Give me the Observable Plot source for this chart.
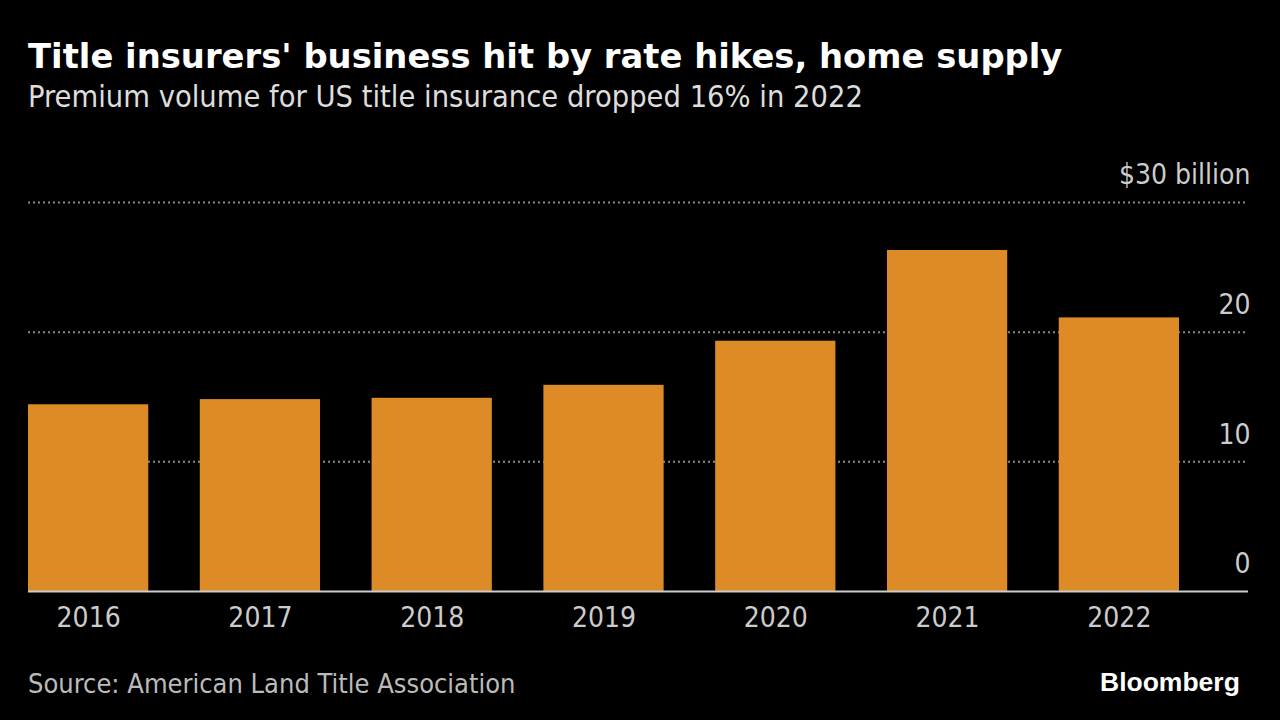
<!DOCTYPE html>
<html><head><meta charset="utf-8">
<script src="https://cdn.jsdelivr.net/npm/d3@7"></script>
<script src="https://cdn.jsdelivr.net/npm/@observablehq/plot@0.6"></script>
<style>
body{margin:0;background:#000;width:1280px;height:720px;overflow:hidden;position:relative}
.t{position:absolute;white-space:nowrap;line-height:1}
#title{left:28px;top:40px;font-family:"DejaVu Sans";font-weight:bold;font-size:33.8px;color:#fff}
#subtitle{left:28px;top:82px;font-family:"DejaVu Sans Condensed","DejaVu Sans";font-stretch:condensed;font-size:30.5px;color:#ddd}
#chart{position:absolute;left:0;top:140px}
#source{left:28px;top:670px;font-family:"DejaVu Sans Condensed","DejaVu Sans";font-stretch:condensed;font-size:27px;color:#bbb}
#logo{left:1100px;top:669px;font-family:"Liberation Sans";font-weight:bold;font-size:26.5px;color:#fff}
</style></head>
<body>
<div class="t" id="title">Title insurers' business hit by rate hikes, home supply</div>
<div class="t" id="subtitle">Premium volume for US title insurance dropped 16% in 2022</div>
<div id="chart"></div>
<div class="t" id="source">Source: American Land Title Association</div>
<div class="t" id="logo">Bloomberg</div>
<script>
const years = ["2016", "2017", "2018", "2019", "2020", "2021", "2022"];
const premiums = [14.4, 14.8, 14.9, 15.9, 19.3, 26.3, 21.1];
const yTicks = [0, 10, 20, 30];
const yTickLabels = ["0", "10", "20", "$30 billion"];
const gridValues = [10, 20, 30];

const data = years.map((year, i) => ({year, value: premiums[i]}));

const chart = Plot.plot({
  width: 1280,
  height: 510,
  marginTop: 62,
  marginBottom: 59,
  marginLeft: 28,
  marginRight: 32,
  style: {background: "transparent", color: "#ccc", fontFamily: "'DejaVu Sans Condensed','DejaVu Sans'", fontSize: "28px"},
  x: {domain: years, range: [28, 1179], paddingInner: 0.3, paddingOuter: 0, round: false, label: null},
  y: {domain: [0, 30], label: null},
  marks: [
    Plot.ruleY(gridValues, {stroke: "#8a8a8a", strokeWidth: 2, strokeDasharray: "2,3"}),
    Plot.barY(data, {x: "year", y: "value", fill: "#dc8b27"}),
    Plot.ruleY([0], {stroke: "#ccc", strokeWidth: 2}),
    Plot.axisX({tickSize: 0, tickPadding: 16, fontSize: 28, fill: "#ccc"}),
    Plot.axisY(yTicks, {anchor: "right", tickSize: 0, tickPadding: 2, textAnchor: "end", dy: -27, fontSize: 28, fill: "#ccc",
      tickFormat: d => yTickLabels[yTicks.indexOf(d)]})
  ]
});
document.getElementById("chart").appendChild(chart);
</script>
</body></html>
